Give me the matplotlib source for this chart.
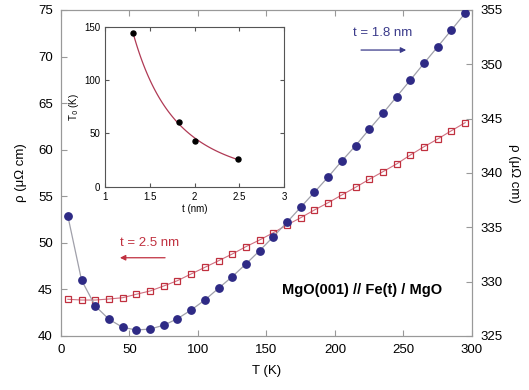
import numpy as np
import matplotlib.pyplot as plt

plt.rcParams['font.family'] = ['Liberation Sans', 'DejaVu Sans']

# температура, K
temp = [5, 15, 25, 35, 45, 55, 65, 75, 85, 95, 105, 115, 125, 135, 145,
        155, 165, 175, 185, 195, 205, 215, 225, 235, 245, 255, 265, 275, 285, 295]

# t = 2.5 nm, левая ось
rho_25 = [43.94, 43.86, 43.86, 43.97, 44.11, 44.48, 44.83, 45.37, 45.94, 46.66,
          47.37, 48.08, 48.80, 49.59, 50.31, 51.09, 51.92, 52.70, 53.53, 54.31,
          55.14, 55.96, 56.82, 57.64, 58.47, 59.43, 60.32, 61.15, 62.04, 62.90]

# t = 1.8 nm, правая ось
rho_18 = [336.04, 330.14, 327.76, 326.54, 325.80, 325.55, 325.64, 325.99, 326.59, 327.39,
          328.31, 329.39, 330.46, 331.63, 332.85, 334.14, 335.47, 336.85, 338.23, 339.63,
          341.11, 342.51, 344.02, 345.49, 347.02, 348.55, 350.10, 351.62, 353.16, 354.70]

# вставка: T0 от толщины
thick = [1.31, 1.83, 2.01, 2.49]
t0 = [144.5, 61.0, 43.0, 25.5]

red = '#c0303f'
blue = '#2e2a85'
grey = '#999999'

fig = plt.figure(figsize=(5.29, 3.90), dpi=100)
ax = fig.add_axes([0.1153, 0.1385, 0.7769, 0.8359])
ax2 = ax.twinx()

ax.plot(temp, rho_25, '-', color='#d07080', lw=0.8, zorder=2)
ax.plot(temp, rho_25, 's', mfc='none', mec=red, ms=4.3, mew=0.9, zorder=3)
ax2.plot(temp, rho_18, '-', color='#a0a0aa', lw=0.9, zorder=2)
ax2.plot(temp, rho_18, 'o', color=blue, ms=5.3, zorder=3)

ax.set_xlim(0, 300)
ax.set_ylim(40, 75)
ax2.set_ylim(325, 355)
ax.set_xticks(range(0, 301, 50))
ax.set_yticks(range(40, 76, 5))
ax2.set_yticks(range(325, 356, 5))

for a in (ax, ax2):
    for s in a.spines.values():
        s.set_color(grey)
    a.tick_params(direction='in', length=4, color=grey, labelsize=9.5, top=True)
ax.tick_params(pad=6)
ax2.tick_params(pad=6)

ax.set_xlabel('T (K)', fontsize=9.5, labelpad=6)
ax.set_ylabel('ρ (μΩ cm)', fontsize=9.5, labelpad=8)
ax2.set_ylabel('ρ (μΩ cm)', fontsize=9.5, rotation=270, labelpad=13)

# подписи и стрелки
ax.text(235, 72.5, 't = 1.8 nm', color='#3a3a8a', fontsize=9.5, ha='center', va='center')
ax.annotate('', xy=(254, 70.7), xytext=(217, 70.7),
            arrowprops=dict(arrowstyle='-|>', color='#3a3a8a', lw=0.9, mutation_scale=8))
ax.text(65, 50.0, 't = 2.5 nm', color=red, fontsize=9.5, ha='center', va='center')
ax.annotate('', xy=(41, 48.4), xytext=(78, 48.4),
            arrowprops=dict(arrowstyle='-|>', color=red, lw=0.9, mutation_scale=8))
ax.text(220, 44.9, 'MgO(001) // Fe(t) / MgO', fontsize=10.5, fontweight='bold',
        ha='center', va='center')

# вставка
ins = fig.add_axes([0.1985, 0.5213, 0.3384, 0.4103])
k, b = np.polyfit(np.log(thick), np.log(t0), 1)
tt = np.linspace(thick[0], thick[-1], 100)
ins.plot(tt, np.exp(b) * tt ** k, color='#b03a55', lw=0.9)
ins.plot(thick, t0, 'o', color='black', ms=3.6)
ins.set_xlim(1, 3)
ins.set_ylim(0, 150)
ins.set_xticks([1, 1.5, 2, 2.5, 3])
ins.set_xticklabels(['1', '1.5', '2', '2.5', '3'])
ins.set_yticks([0, 50, 100, 150])
ins.tick_params(direction='in', length=3, labelsize=7, top=True, right=True, color='#555555')
for s in ins.spines.values():
    s.set_color('#555555')
ins.set_xlabel('t (nm)', fontsize=7, labelpad=2)
ins.set_ylabel('T$_0$ (K)', fontsize=7, labelpad=2)

fig.savefig('out.png', dpi=100)
